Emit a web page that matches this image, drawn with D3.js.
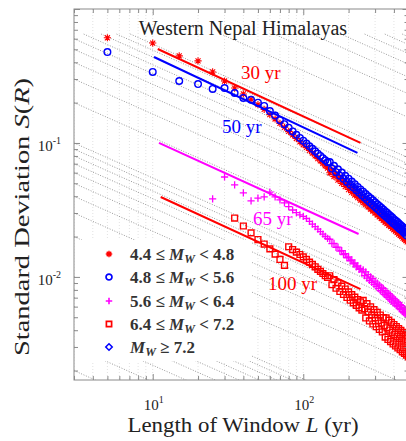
<!DOCTYPE html>
<html>
<head>
<meta charset="utf-8">
<script src="https://cdn.jsdelivr.net/npm/d3@7"></script>
<style>
	body { margin: 0; background: #fff; }
	svg { display: block; font-family: "Liberation Serif", "Times New Roman", serif; }
</style>
</head>
<body>
<svg id="chart" width="406" height="441"></svg>
<script>
// Window lengths L (yr) at which S(R) was computed
const windowL = [5, 10, 15, 20, 25, 30, 35, 40, 45, 50, 55, 60, 65, 70, 75, 80, 85, 90, 95, 100,
	105, 110, 115, 120, 125, 130, 135, 140, 145, 150, 155, 160, 165, 170, 175, 180, 185, 190, 195, 200,
	205, 210, 215, 220, 225, 230, 235, 240, 245, 250, 255, 260, 265, 270, 275, 280, 285, 290, 295, 300,
	305, 310, 315, 320, 325, 330, 335, 340, 345, 350, 355, 360, 365, 370, 375, 380, 385, 390, 395, 400,
	405, 410, 415, 420, 425, 430, 435, 440, 445, 450, 455, 460, 465, 470, 475, 480, 485, 490, 495, 500];

// S(R) per magnitude bin (null = no point)
const sdBin1 = [0.61, 0.557, 0.447, 0.41, 0.339, 0.29, 0.257, 0.232, 0.212, 0.193, 0.178, 0.163, 0.151, 0.140, 0.131, 0.122, 0.115, 0.108, 0.102, 0.097,
	0.0926, 0.0879, 0.0841, 0.0802, 0.0765, 0.0736, 0.0705, 0.0676, 0.0649, 0.0599, 0.0628, 0.0562, 0.0590, 0.0529, 0.0556, 0.0499, 0.0526, 0.0473, 0.0499, 0.0449,
	0.0475, 0.0428, 0.0453, 0.0409, 0.0433, 0.0391, 0.0415, 0.0374, 0.0397, 0.0359, 0.0382, 0.0346, 0.0367, 0.0333, 0.0354, 0.0321, 0.0342, 0.0310, 0.0331, 0.0300,
	0.0319, 0.0290, 0.0309, 0.0281, 0.0300, 0.0273, 0.0290, 0.0264, 0.0282, 0.0256, 0.0275, 0.0250, 0.0267, 0.0243, 0.0259, 0.0237, 0.0253, 0.0230, 0.0246, 0.0225,
	0.0240, 0.0220, 0.0235, 0.0214, 0.0230, 0.0209, 0.0224, 0.0204, 0.0219, 0.0200, 0.0214, 0.0195, 0.0210, 0.0191, 0.0205, 0.0187, 0.0201, 0.0183, 0.0197, 0.0180];
const sdBin2 = [0.477, 0.339, 0.290, 0.275, 0.253, 0.257, 0.236, 0.217, 0.210, 0.200, 0.189, 0.173, 0.160, 0.148, 0.138, 0.130, 0.122, 0.115, 0.109, 0.104,
	0.0990, 0.0945, 0.0904, 0.0867, 0.0832, 0.0800, 0.0770, 0.0743, 0.0717, 0.0721, 0.0644, 0.0676, 0.0605, 0.0636, 0.0570, 0.0601, 0.0540, 0.0569, 0.0512, 0.0541,
	0.0487, 0.0515, 0.0465, 0.0492, 0.0444, 0.0470, 0.0425, 0.0450, 0.0407, 0.0433, 0.0392, 0.0416, 0.0376, 0.0400, 0.0363, 0.0386, 0.0350, 0.0373, 0.0339, 0.0361,
	0.0327, 0.0348, 0.0317, 0.0338, 0.0307, 0.0328, 0.0298, 0.0318, 0.0289, 0.0309, 0.0281, 0.0301, 0.0274, 0.0292, 0.0266, 0.0285, 0.0259, 0.0278, 0.0252, 0.0270,
	0.0247, 0.0264, 0.0241, 0.0258, 0.0235, 0.0252, 0.0229, 0.0245, 0.0225, 0.0240, 0.0220, 0.0235, 0.0215, 0.0230, 0.0210, 0.0226, 0.0205, 0.0220, 0.0202, 0.0216];
const sdBin3 = [null, null, null, null, 0.0382, 0.0557, 0.0487, 0.0424, 0.0370, 0.0388, 0.0396, 0.0430, 0.0396, 0.0376, 0.0357, 0.0335, 0.0316, 0.0302, 0.0290, 0.0283,
	0.0273, 0.0260, 0.0248, 0.0237, 0.0227, 0.0218, 0.0209, 0.0201, 0.0194, 0.0191, 0.0177, 0.0178, 0.0166, 0.0167, 0.0156, 0.0157, 0.0147, 0.0149, 0.0139, 0.0141,
	0.0132, 0.0134, 0.0125, 0.0127, 0.0119, 0.0121, 0.0114, 0.0116, 0.0109, 0.0113, 0.0102, 0.0109, 0.0098, 0.0104, 0.0094, 0.0100, 0.0091, 0.0097, 0.0088, 0.0093,
	0.0085, 0.0090, 0.0082, 0.0087, 0.0079, 0.0084, 0.0077, 0.0082, 0.0074, 0.0079, 0.0072, 0.0077, 0.0070, 0.0075, 0.0068, 0.0073, 0.0066, 0.0071, 0.0064, 0.0069,
	0.0063, 0.0067, 0.0061, 0.0065, 0.0060, 0.0064, 0.0058, 0.0062, 0.0057, 0.0061, 0.0055, 0.0059, 0.0054, 0.0058, 0.0053, 0.0057, 0.0052, 0.0055, 0.0051, 0.0054];
const sdBin4 = [null, null, null, null, null, null, 0.0275, 0.0240, 0.0213, 0.0190, 0.0176, 0.0162, 0.0148, 0.0135, 0.0122, 0.0168, 0.0160, 0.0153, 0.0147, 0.0141,
	0.0135, 0.0129, 0.0124, 0.0119, 0.0114, 0.0110, 0.0106, 0.0102, 0.0099, 0.0102, 0.00874, 0.00956, 0.00823, 0.00902, 0.00778, 0.00854, 0.00739, 0.00812, 0.00702, 0.00773,
	0.00670, 0.00738, 0.00640, 0.00706, 0.00613, 0.00677, 0.00588, 0.00650, 0.00565, 0.00667, 0.00579, 0.00494, 0.00631, 0.00548, 0.00469, 0.00599, 0.00521, 0.00445, 0.00570, 0.00496,
	0.00425, 0.00544, 0.00473, 0.00405, 0.00519, 0.00453, 0.00388, 0.00497, 0.00434, 0.00355, 0.00494, 0.00417, 0.00341, 0.00475, 0.00401, 0.00329, 0.00457, 0.00386, 0.00316, 0.00441,
	0.00372, 0.00305, 0.00426, 0.00360, 0.00295, 0.00412, 0.00348, 0.00286, 0.00399, 0.00337, 0.00276, 0.00386, 0.00327, 0.00268, 0.00374, 0.00317, 0.00261, 0.00364, 0.00308, 0.00253];
const sdBin5 = [];

const legendPre = ['4.4 ≤ ', '4.8 ≤ ', '5.6 ≤ ', '6.4 ≤ ', ''];
const legendPost = [' < 4.8', ' < 5.6', ' < 6.4', ' < 7.2', ' ≥ 7.2'];

// Reference recurrence lines: [L start, L end] and [S start, S end]
const fitNames = ['30 yr', '50 yr', '65 yr', '100 yr'];
const fitL = [[10.8, 240], [10.2, 229], [11, 233], [11.3, 240]];
const fitS = [[0.503, 0.100], [0.438, 0.0842], [0.100, 0.0209], [0.0395, 0.0081]];

// Background guide lines S ~ L^-1/2, labelled by their value at the left edge
const guideC = [0.002, 0.003, 0.004, 0.005, 0.006, 0.007, 0.008, 0.009,
	0.01, 0.02, 0.03, 0.04, 0.05, 0.06, 0.07, 0.08, 0.09,
	0.1, 0.2, 0.3, 0.4, 0.5, 0.6, 0.7, 0.8, 0.9,
	1, 2, 3, 4, 5, 6, 7, 8, 9];

const xMajor = [10, 100];
const xMinor = [3, 4, 5, 6, 7, 8, 9, 20, 30, 40, 50, 60, 70, 80, 90, 200, 300, 400, 500];
const yMajor = [0.01, 0.1, 1];
const yMinor = [0.002, 0.003, 0.004, 0.005, 0.006, 0.007, 0.008, 0.009,
	0.02, 0.03, 0.04, 0.05, 0.06, 0.07, 0.08, 0.09, 0.2, 0.3, 0.4, 0.5, 0.6, 0.7, 0.8, 0.9];
const xTickText = ['1', '2'];
const yTickText = ['-2', '-1'];

// ── layout ──
const RED = '#ff0000', BLUE = '#0000ff', MAGENTA = '#ff00ff';
const AXIS_GREY = '#8a8a8a';
const plot = { left: 74, top: 9, right: 408.5, bottom: 380 };

const svg = d3.select('#chart');
const x = d3.scaleLog().domain([3, 500]).range([plot.left, plot.right]);
const y = d3.scaleLog().domain([0.0017, 1]).range([plot.bottom, plot.top]);

svg.append('defs').append('clipPath').attr('id', 'plot-clip')
	.append('rect')
	.attr('x', plot.left).attr('y', plot.top)
	.attr('width', plot.right - plot.left).attr('height', plot.bottom - plot.top);

const body = svg.append('g').attr('clip-path', 'url(#plot-clip)');

// faint vertical grid
body.append('g').selectAll('line').data(xMajor.concat(xMinor)).join('line')
	.attr('x1', (d) => x(d)).attr('x2', (d) => x(d))
	.attr('y1', plot.top).attr('y2', plot.bottom)
	.attr('stroke', '#e2e2e2').attr('stroke-width', 1).attr('stroke-dasharray', '1 2');

// dotted guide lines (kept below the title band)
const guideTop = 0.65;
body.append('g').selectAll('line').data(guideC).join('line')
	.each(function (c) {
		const l0 = Math.max(3, 3 * (c / guideTop) ** 2);
		const sAt = (l) => c * Math.sqrt(3 / l);
		d3.select(this)
			.attr('x1', x(l0)).attr('y1', y(sAt(l0)))
			.attr('x2', x(500)).attr('y2', y(sAt(500)));
	})
	.attr('stroke', '#8f8f8f').attr('stroke-width', 0.9).attr('stroke-dasharray', '1 1.6');

// marker shapes
const markerPath = {
	asterisk: (r) => `M${-r},0H${r}M0,${-r}V${r}M${-0.7 * r},${-0.7 * r}L${0.7 * r},${0.7 * r}M${-0.7 * r},${0.7 * r}L${0.7 * r},${-0.7 * r}`,
	circle: (r) => `M${r},0A${r},${r} 0 1 1 ${-r},0A${r},${r} 0 1 1 ${r},0Z`,
	plus: (r) => `M${-r},0H${r}M0,${-r}V${r}`,
	square: (r) => `M${-r},${-r}H${r}V${r}H${-r}Z`,
	diamond: (r) => `M0,${-r}L${r},0L0,${r}L${-r},0Z`,
};

const series = [
	{ values: sdBin1, color: RED, shape: 'asterisk', r: 3.6, sw: 1.1 },
	{ values: sdBin2, color: BLUE, shape: 'circle', r: 3.3, sw: 1.4 },
	{ values: sdBin3, color: MAGENTA, shape: 'plus', r: 3.6, sw: 1.3 },
	{ values: sdBin4, color: RED, shape: 'square', r: 2.9, sw: 1.4 },
	{ values: sdBin5, color: BLUE, shape: 'diamond', r: 3.6, sw: 1.2 },
];

series.forEach((s) => {
	const pts = windowL.map((l, i) => [l, s.values[i]]).filter((p) => p[1] != null);
	body.append('g').selectAll('path').data(pts).join('path')
		.attr('transform', (p) => `translate(${x(p[0])},${y(p[1])})`)
		.attr('d', markerPath[s.shape](s.r))
		.attr('fill', 'none').attr('stroke', s.color).attr('stroke-width', s.sw);
});

// recurrence-interval lines + their labels
const fitColors = [RED, BLUE, MAGENTA, RED];
const fitLabelPos = [[241, 79], [222, 133], [253, 225], [268, 290]];
fitNames.forEach((name, i) => {
	body.append('line')
		.attr('x1', x(fitL[i][0])).attr('y1', y(fitS[i][0]))
		.attr('x2', x(fitL[i][1])).attr('y2', y(fitS[i][1]))
		.attr('stroke', fitColors[i]).attr('stroke-width', 2);
	svg.append('text')
		.attr('x', fitLabelPos[i][0]).attr('y', fitLabelPos[i][1])
		.attr('font-size', 19).attr('fill', fitColors[i])
		.text(name);
});

// title
svg.append('text')
	.attr('x', 243).attr('y', 35).attr('text-anchor', 'middle')
	.attr('font-size', 20).attr('fill', '#222')
	.text('Western Nepal Himalayas');

// legend
const legY = [254, 277, 301, 324, 347];
const leg = svg.append('g');
leg.append('rect').attr('x', plot.left + 1).attr('y', 240).attr('width', 177).attr('height', 121).attr('fill', '#fff');
series.forEach((s, i) => {
	leg.append('path')
		.attr('transform', `translate(109,${legY[i]})`)
		.attr('d', markerPath[s.shape](s.r * 0.9))
		.attr('fill', 'none').attr('stroke', s.color).attr('stroke-width', s.sw + 0.3);
	const t = leg.append('text').attr('x', 130).attr('y', legY[i] + 6)
		.attr('font-size', 17).attr('font-weight', 'bold').attr('fill', '#333');
	t.append('tspan').text(legendPre[i]);
	t.append('tspan').attr('font-style', 'italic').text('M');
	t.append('tspan').attr('font-style', 'italic').attr('font-size', 12).attr('dy', 3).text('W');
	t.append('tspan').attr('dy', -3).text(legendPost[i]);
});

// axes: ticks point inward on all four sides
const tickGrey = (g) => {
	g.select('.domain').remove();
	g.selectAll('line').attr('stroke', AXIS_GREY);
	g.selectAll('text').remove();
};
const addAxis = (axisFn, scale, vals, size, transform) => svg.append('g')
	.attr('transform', transform)
	.call(axisFn(scale).tickValues(vals).tickSizeInner(-size).tickSizeOuter(0).tickFormat(() => ''))
	.call(tickGrey);

addAxis(d3.axisBottom, x, xMajor, 6, `translate(0,${plot.bottom})`);
addAxis(d3.axisBottom, x, xMinor, 4, `translate(0,${plot.bottom})`);
addAxis(d3.axisTop, x, xMajor, 6, `translate(0,${plot.top})`);
addAxis(d3.axisTop, x, xMinor, 4, `translate(0,${plot.top})`);
addAxis(d3.axisLeft, y, yMajor, 6, `translate(${plot.left},0)`);
addAxis(d3.axisLeft, y, yMinor, 4, `translate(${plot.left},0)`);
addAxis(d3.axisRight, y, yMajor, 6, `translate(${plot.right},0)`);
addAxis(d3.axisRight, y, yMinor, 4, `translate(${plot.right},0)`);

svg.append('rect')
	.attr('x', plot.left).attr('y', plot.top)
	.attr('width', plot.right - plot.left).attr('height', plot.bottom - plot.top)
	.attr('fill', 'none').attr('stroke', AXIS_GREY).attr('stroke-width', 1);

// tick labels 10^n
xMajor.forEach((v, i) => {
	const t = svg.append('text').attr('x', x(v) + 1).attr('y', 410)
		.attr('text-anchor', 'middle').attr('font-size', 15).attr('fill', '#222');
	t.append('tspan').text('10');
	t.append('tspan').attr('font-size', 10).attr('dy', -7).text(xTickText[i]);
});
yMajor.slice(0, 2).forEach((v, i) => {
	const t = svg.append('text').attr('x', 61).attr('y', y(v) + 8)
		.attr('text-anchor', 'end').attr('font-size', 15).attr('fill', '#222');
	t.append('tspan').text('10');
	t.append('tspan').attr('font-size', 10).attr('dy', -7).text(yTickText[i]);
});

// axis titles
const xt = svg.append('text').attr('x', 243).attr('y', 432)
	.attr('text-anchor', 'middle').attr('font-size', 20).attr('fill', '#222')
	.attr('textLength', 231).attr('lengthAdjust', 'spacingAndGlyphs');
xt.append('tspan').text('Length of Window ');
xt.append('tspan').attr('font-style', 'italic').text('L');
xt.append('tspan').text(' (yr)');

const yt = svg.append('text')
	.attr('transform', 'translate(29,217) rotate(-90)')
	.attr('text-anchor', 'middle').attr('font-size', 21).attr('fill', '#222')
	.attr('textLength', 278).attr('lengthAdjust', 'spacingAndGlyphs');
yt.append('tspan').text('Standard Deviation ');
yt.append('tspan').attr('font-style', 'italic').text('S');
yt.append('tspan').text('(');
yt.append('tspan').attr('font-style', 'italic').text('R');
yt.append('tspan').text(')');
</script>
</body>
</html>
